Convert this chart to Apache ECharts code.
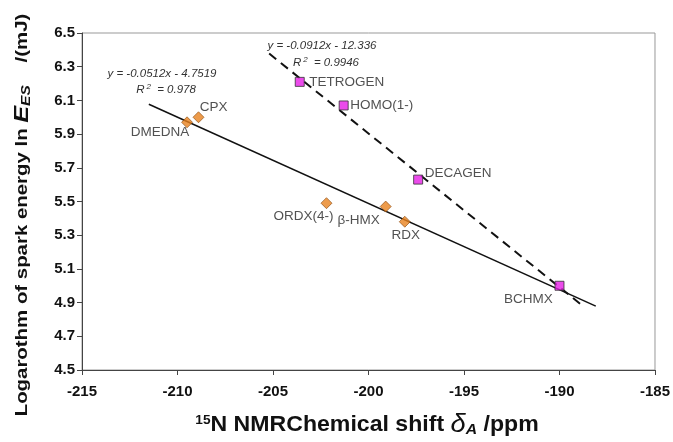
<!DOCTYPE html>
<html>
<head>
<meta charset="utf-8">
<script src="https://cdn.jsdelivr.net/npm/echarts@6/dist/echarts.min.js"></script>
<style>
  html, body { margin: 0; padding: 0; background: #fff; }
  #chart { width: 673px; height: 442px; }
</style>
</head>
<body>
<div id="chart"></div>
<script>
// nitramines (orange diamonds)
var nitraNames = ['DMEDNA', 'CPX', 'ORDX(4-)', 'β-HMX', 'RDX'];
var nitraShift = [-209.5, -208.9, -202.2, -199.1, -198.1];
var nitraEnergy = [5.97, 6.00, 5.49, 5.47, 5.38];

// cyclic nitramines (magenta squares)
var cycloNames = ['TETROGEN', 'HOMO(1-)', 'DECAGEN', 'BCHMX'];
var cycloShift = [-203.6, -201.3, -197.4, -190.0];
var cycloEnergy = [6.21, 6.07, 5.63, 5.00];

// trend line ends
var solidFit = [[-211.5, 6.077], [-188.1, 4.879]];
var dashedFit = [[-205.2, 6.378], [-188.7, 4.873]];

var xTicks = [-215, -185, 5];
var yTicks = [4.5, 6.5, 0.2];

// label placement (offset of text centre from the marker)
var labelOffset = {
    'DMEDNA': [-27, 10],
    'CPX': [15, -10],
    'ORDX(4-)': [-23, 13],
    'β-HMX': [-27, 14],
    'RDX': [1, 14],
    'TETROGEN': [47, 0],
    'HOMO(1-)': [38, 0],
    'DECAGEN': [40, -6],
    'BCHMX': [-31, 14]
};

function points(names, xs, ys) {
    return names.map(function (n, i) {
        return {
            name: n,
            value: [xs[i], ys[i]],
            label: { offset: labelOffset[n] }
        };
    });
}

var myChart = echarts.init(document.getElementById('chart'));

var ptLabel = {
    show: true,
    position: 'inside',
    formatter: '{b}',
    color: '#262626',
    fontFamily: 'Liberation Sans, Arial, sans-serif',
    fontSize: 13.5
};

var option = {
    animation: false,
    grid: {
        left: 82, right: 13, top: 33, bottom: 72,
        show: true,
        borderColor: '#999',
        borderWidth: 1
    },
    xAxis: {
        type: 'value',
        min: xTicks[0], max: xTicks[1], interval: xTicks[2],
        axisLine: { show: true, onZero: false, lineStyle: { color: '#444', width: 1 } },
        axisTick: { show: true, length: 5, lineStyle: { color: '#444' } },
        splitLine: { show: false },
        axisLabel: {
            margin: 14,
            color: '#111',
            fontWeight: 'bold',
            fontSize: 15,
            fontFamily: 'Liberation Sans, Arial, sans-serif'
        }
    },
    yAxis: {
        type: 'value',
        min: yTicks[0], max: yTicks[1], interval: yTicks[2],
        axisLine: { show: true, onZero: false, lineStyle: { color: '#444', width: 1 } },
        axisTick: { show: true, length: 5, lineStyle: { color: '#444' } },
        splitLine: { show: false },
        axisLabel: {
            margin: 7,
            color: '#111',
            fontWeight: 'bold',
            fontSize: 15,
            fontFamily: 'Liberation Sans, Arial, sans-serif',
            formatter: function (v) { return v.toFixed(1); }
        }
    },
    graphic: [
        {   // y axis title, stretched along its length like the original
            type: 'text',
            x: 22, y: 215,
            rotation: Math.PI / 2,
            scaleX: 1.2,
            style: {
                text: 'Logarothm of spark energy ln {e|E}{s|ES}    /(mJ)',
                align: 'center',
                verticalAlign: 'middle',
                fill: '#111',
                font: 'bold 17px "Liberation Sans", Arial, sans-serif',
                rich: {
                    e: { fontSize: 21, fontStyle: 'italic', fontWeight: 'bold', fill: '#111' },
                    s: { fontSize: 13, fontStyle: 'italic', fontWeight: 'bold', fill: '#111', padding: [8, 0, 0, 0] }
                }
            }
        },
        {   // x axis title
            type: 'text',
            x: 367, y: 425,
            scaleX: 1.05,
            style: {
                text: '{p|15}N NMRChemical shift {d|δ}{a|A} /ppm',
                align: 'center',
                verticalAlign: 'middle',
                fill: '#111',
                font: 'bold 22px "Liberation Sans", Arial, sans-serif',
                rich: {
                    p: { fontSize: 13, fontWeight: 'bold', fill: '#111', padding: [0, 0, 10, 0] },
                    d: { fontSize: 26, fontStyle: 'italic', fill: '#111' },
                    a: { fontSize: 15, fontStyle: 'italic', fontWeight: 'bold', fill: '#111', padding: [10, 0, 0, 0] }
                }
            }
        },
        {
            type: 'text', x: 162, y: 74,
            style: { text: 'y = -0.0512x - 4.7519', align: 'center', verticalAlign: 'middle',
                     fill: '#333', font: 'italic 11.5px "Liberation Sans", Arial, sans-serif' }
        },
        {
            type: 'text', x: 166, y: 90,
            style: { text: 'R{s|2} = 0.978', align: 'center', verticalAlign: 'middle',
                     fill: '#333', font: 'italic 11.5px "Liberation Sans", Arial, sans-serif',
                     rich: { s: { fontSize: 8, fontStyle: 'italic', fill: '#333', padding: [0, 3, 7, 2] } } }
        },
        {
            type: 'text', x: 322, y: 46,
            style: { text: 'y = -0.0912x - 12.336', align: 'center', verticalAlign: 'middle',
                     fill: '#333', font: 'italic 11.5px "Liberation Sans", Arial, sans-serif' }
        },
        {
            type: 'text', x: 326, y: 63,
            style: { text: 'R{s|2} = 0.9946', align: 'center', verticalAlign: 'middle',
                     fill: '#333', font: 'italic 11.5px "Liberation Sans", Arial, sans-serif',
                     rich: { s: { fontSize: 8, fontStyle: 'italic', fill: '#333', padding: [0, 3, 7, 2] } } }
        }
    ],
    series: [
        {
            name: 'fit nitramines',
            type: 'line',
            data: solidFit,
            symbol: 'none',
            silent: true,
            lineStyle: { color: '#111', width: 1.5 },
            z: 1
        },
        {
            name: 'fit cyclic',
            type: 'line',
            data: dashedFit,
            symbol: 'none',
            silent: true,
            lineStyle: { color: '#111', width: 2, type: [9, 6] },
            z: 1
        },
        {
            name: 'nitramines',
            type: 'scatter',
            symbol: 'diamond',
            symbolSize: 11,
            itemStyle: { color: '#E8821E', borderColor: '#8a4a10', borderWidth: 0.8 },
            label: ptLabel,
            data: points(nitraNames, nitraShift, nitraEnergy),
            z: 3
        },
        {
            name: 'cyclic',
            type: 'scatter',
            symbol: 'rect',
            symbolSize: 9,
            itemStyle: { color: '#E61EE6', borderColor: '#333', borderWidth: 1 },
            label: ptLabel,
            data: points(cycloNames, cycloShift, cycloEnergy),
            z: 3
        }
    ]
};

myChart.setOption(option);
</script>
</body>
</html>
